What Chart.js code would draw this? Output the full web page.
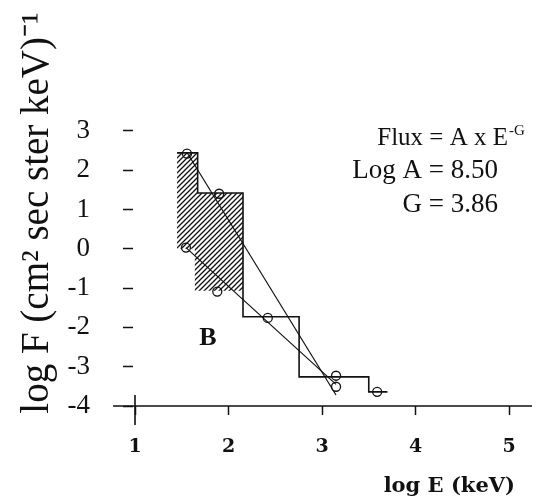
<!DOCTYPE html>
<html>
<head>
<meta charset="utf-8">
<script src="https://cdn.jsdelivr.net/npm/chart.js@4"></script>
<style>
  html, body { margin: 0; padding: 0; background: #fff; }
  canvas { display: block; }
</style>
</head>
<body>
<canvas id="espectro" width="539" height="501"></canvas>
<script>
// Espectro observado (histograma): bordes de bin en log E y flujo en log F
const bordesBin = [1.45, 1.67, 2.155, 2.755, 3.50, 3.70];
const flujoBin = [2.44, 1.42, -1.73, -3.26, -3.64];

// Banda rayada: el techo es el histograma, el piso estos valores
const bordesPiso = [1.45, 1.64, 2.155];
const flujoPiso = [0.0, -1.07];

// Puntos medidos (circulos)
const puntosE = [1.556, 1.90, 1.545, 1.88, 2.42, 3.15, 3.15, 3.59];
const puntosF = [2.42, 1.40, 0.03, -1.09, -1.76, -3.23, -3.51, -3.64];

// Rectas de ajuste (extremos)
const ajuste1E = [1.556, 3.15];
const ajuste1F = [2.45, -3.72];
const ajuste2E = [1.545, 3.15];
const ajuste2F = [0.03, -3.45];

const ticksX = [1, 2, 3, 4, 5];
const ticksY = [-4, -3, -2, -1, 0, 1, 2, 3];

const NEGRO = "#111";
const SERIF = '"Liberation Serif", "Times New Roman", serif';

// convierte bordes + valores en la poligonal de un histograma
function escalones(bordes, valores) {
  const pts = [];
  valores.forEach((v, i) => {
    pts.push({ x: bordes[i], y: v });
    pts.push({ x: bordes[i + 1], y: v });
  });
  return pts;
}

function aPuntos(xs, ys) {
  return xs.map((x, i) => ({ x: x, y: ys[i] }));
}

// patron de rayas diagonales para la banda
function rayado() {
  const c = document.createElement("canvas");
  c.width = 5;
  c.height = 5;
  const g = c.getContext("2d");
  g.strokeStyle = NEGRO;
  g.lineWidth = 1.3;
  g.beginPath();
  g.moveTo(0, 5); g.lineTo(5, 0);
  g.moveTo(-1, 1); g.lineTo(1, -1);
  g.moveTo(4, 6); g.lineTo(6, 4);
  g.stroke();
  return g.createPattern(c, "repeat");
}

// eje horizontal prolongado, marca en log E = 1 y rotulos del ajuste
const decoracion = {
  id: "decoracion",
  afterDraw(chart) {
    const { ctx, scales } = chart;
    const x = scales.x, y = scales.y;
    const y0 = y.getPixelForValue(-4);
    ctx.save();
    ctx.strokeStyle = NEGRO;
    ctx.lineWidth = 1.6;
    ctx.beginPath();
    ctx.moveTo(x.getPixelForValue(0.765), y0);
    ctx.lineTo(x.getPixelForValue(5.246), y0);
    const x1 = x.getPixelForValue(1);
    ctx.moveTo(x1, y0 - 11);
    ctx.lineTo(x1, y0 + 19);
    ctx.stroke();

    ctx.fillStyle = NEGRO;
    ctx.textBaseline = "alphabetic";
    ctx.font = "25px " + SERIF;
    ctx.textAlign = "right";
    ctx.fillText("Flux = A x E", 508, 145);
    ctx.font = "15px " + SERIF;
    ctx.textAlign = "left";
    ctx.fillText("-G", 509, 135);
    ctx.font = "27px " + SERIF;
    ctx.textAlign = "right";
    ctx.fillText("Log A = 8.50", 498, 178);
    ctx.fillText("G = 3.86", 498, 212);

    ctx.font = "bold 26px " + SERIF;
    ctx.textAlign = "center";
    ctx.fillText("B", 208, 345);
    ctx.restore();
  }
};

new Chart(document.getElementById("espectro"), {
  type: "line",
  data: {
    datasets: [
      {
        // techo de la banda
        data: escalones(bordesBin.slice(0, 3), flujoBin.slice(0, 2)),
        borderWidth: 0,
        pointRadius: 0,
        fill: "+1",
        backgroundColor: rayado(),
      },
      {
        // piso de la banda
        data: escalones(bordesPiso, flujoPiso),
        borderWidth: 0,
        pointRadius: 0,
        fill: false,
      },
      {
        data: escalones(bordesBin, flujoBin),
        borderColor: NEGRO,
        borderWidth: 1.6,
        pointRadius: 0,
        fill: false,
      },
      {
        data: aPuntos(ajuste1E, ajuste1F),
        borderColor: NEGRO,
        borderWidth: 1.2,
        pointRadius: 0,
        fill: false,
      },
      {
        data: aPuntos(ajuste2E, ajuste2F),
        borderColor: NEGRO,
        borderWidth: 1.2,
        pointRadius: 0,
        fill: false,
      },
      {
        data: aPuntos(puntosE, puntosF),
        showLine: false,
        pointRadius: 4.5,
        pointBorderWidth: 1.3,
        pointBorderColor: NEGRO,
        pointBackgroundColor: "rgba(0,0,0,0)",
      },
    ],
  },
  options: {
    responsive: false,
    animation: false,
    layout: { padding: { left: 0, right: 24, top: 20, bottom: 0 } },
    plugins: {
      legend: { display: false },
      tooltip: { enabled: false },
    },
    scales: {
      x: {
        type: "linear",
        min: 0.9786,
        max: 5.064,
        afterBuildTicks: (s) => { s.ticks = ticksX.map((v) => ({ value: v })); },
        afterFit: (s) => { s.height = 95; },
        border: { display: false },
        grid: { drawOnChartArea: false, tickLength: 9, color: NEGRO, tickWidth: 1.5 },
        ticks: {
          color: NEGRO,
          padding: 21,
          font: { family: '"DejaVu Serif", serif', size: 19, weight: "bold" },
        },
        title: {
          display: true,
          text: "log E (keV)",
          align: "end",
          color: NEGRO,
          padding: { top: 0, bottom: 2 },
          font: { family: '"DejaVu Serif", serif', size: 21, weight: "bold" },
        },
      },
      y: {
        type: "linear",
        min: -4,
        max: 5.82,
        afterBuildTicks: (s) => { s.ticks = ticksY.map((v) => ({ value: v })); },
        afterFit: (s) => {
          // ancho fijo y sin reservar margen extra arriba/abajo por los rotulos
          s.width = 133;
          s.paddingTop = 0;
          s.paddingBottom = 0;
        },
        border: { display: false },
        grid: { drawOnChartArea: false, tickLength: 10, color: NEGRO, tickWidth: 1.5 },
        ticks: {
          color: NEGRO,
          padding: 33,
          font: { family: SERIF, size: 27 },
        },
        title: {
          display: true,
          text: "log F (cm² sec ster keV)⁻¹",
          color: NEGRO,
          padding: { top: 14, bottom: 0 },
          font: { family: SERIF, size: 39 },
        },
      },
    },
  },
  plugins: [decoracion],
});
</script>
</body>
</html>
